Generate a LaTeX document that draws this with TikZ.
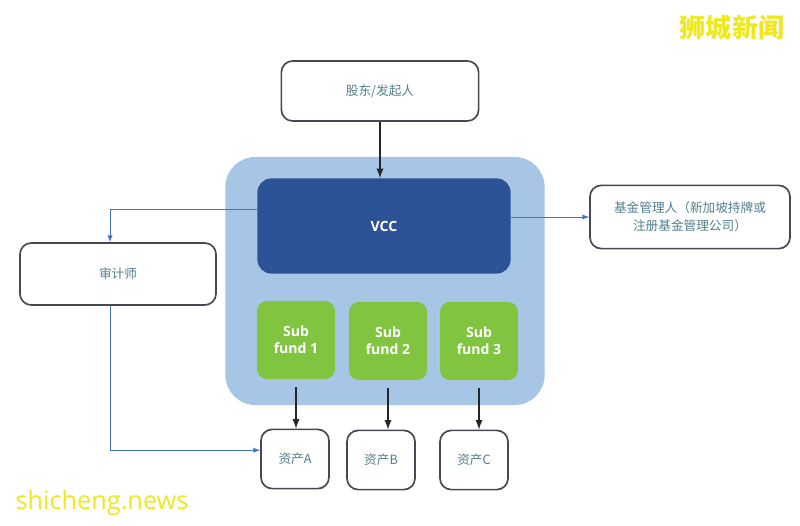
\documentclass[tikz,border=0pt]{standalone}
\usepackage{fontspec}
\setmainfont{Noto Sans CJK SC}
\setsansfont{Open Sans}
\usetikzlibrary{arrows}
\definecolor{qtext}{RGB}{82,128,138}
\definecolor{qframe}{RGB}{72,72,84}
\definecolor{qlink}{RGB}{68,114,196}
\definecolor{qbg}{RGB}{167,198,230}
\definecolor{qvcc}{RGB}{44,82,150}
\definecolor{qfund}{RGB}{128,196,64}
\definecolor{qmark}{RGB}{238,232,30}

\begin{document}
\begin{tikzpicture}[x=0.025cm,y=-0.025cm,
  party/.style={draw=qframe,line width=1.2pt,fill=white,rounded corners=8pt,text=qtext,align=center,font=\fontsize{9}{13}\selectfont},
  fund/.style={fill=qfund,rounded corners=7pt,minimum width=1.95cm,minimum height=1.95cm,text=white,align=center,font=\sffamily\bfseries\fontsize{10}{12}\selectfont},
  link/.style={qlink,line width=0.7pt,-latex},
  flow/.style={black!85,line width=1.3pt,-latex}]
\useasboundingbox (0,0) rectangle (800,525);
%vcc block
\node[fill=qbg,rounded corners=0.75cm,minimum width=7.98cm,minimum height=6.2cm] (vccbg) at (385,281) {};
\node[fill=qvcc,rounded corners=10pt,minimum width=6.33cm,minimum height=2.38cm,text=white,font=\sffamily\bfseries\fontsize{10}{12}\selectfont] (vcc) at (384,226) {VCC};
\node[fund] (sf1) at (296,340) {Sub\\fund 1};
\node[fund] (sf2) at (388,341) {Sub\\fund 2};
\node[fund] (sf3) at (479,341) {Sub\\fund 3};
%parties
\node[party,minimum width=4.93cm,minimum height=1.5cm] (holder) at (380,91) {股东/发起人};
\node[party,minimum width=4.9cm,minimum height=1.55cm] (auditor) at (118,274) {审计师};
\node[party,minimum width=5cm,minimum height=1.58cm] (manager) at (690,217) {基金管理人（新加坡持牌或\\注册基金管理公司）};
%assets
\node[party,minimum width=1.7cm,minimum height=1.48cm] (assetA) at (295,459) {资产A};
\node[party,minimum width=1.7cm,minimum height=1.48cm] (assetB) at (381,460) {资产B};
\node[party,minimum width=1.7cm,minimum height=1.48cm] (assetC) at (474,460) {资产C};
%links
\draw[flow] (holder.south) -- (holder.south |- vcc.north);
\draw[link] ([yshift=0.42cm]vcc.west) -| ([xshift=-0.2cm]auditor.north);
\draw[link] (vcc.east |- manager.west) -- (manager.west);
\draw[link] ([xshift=-0.2cm]auditor.south) |- ([yshift=0.22cm]assetA.west);
\draw[flow,shorten <=0.2cm] (sf1.south) -- (sf1.south |- assetA.north);
\draw[flow,shorten <=0.2cm] (sf2.south) -- (sf2.south |- assetB.north);
\draw[flow,shorten <=0.2cm] (sf3.south) -- (sf3.south |- assetC.north);
%watermarks
\node[text=qmark,font=\bfseries\fontsize{18.5}{20}\selectfont] (markcn) at (732,28) {狮城新闻};
\node[text=qmark,font=\sffamily\fontsize{18}{20}\selectfont] (markurl) at (102,503) {shicheng.news};
\end{tikzpicture}
\end{document}
